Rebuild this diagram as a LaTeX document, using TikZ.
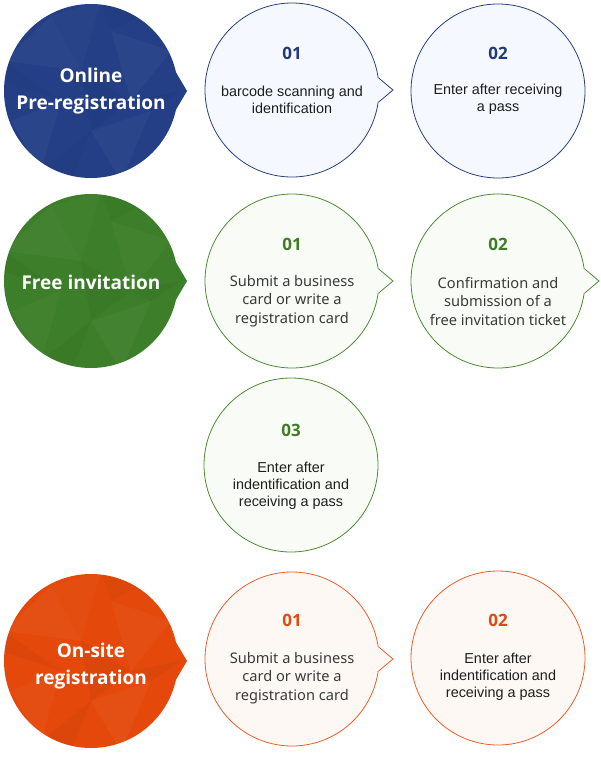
\documentclass[tikz,border=0pt]{standalone}
\usepackage{fontspec}
\setmainfont{Noto Sans}
\newfontfamily\arialf{Liberation Sans}
\newfontfamily\headf{Open Sans}
\usetikzlibrary{calc}
\definecolor{bluebig}{HTML}{243F86}
\definecolor{greenbig}{HTML}{3C7E29}
\definecolor{orangebig}{HTML}{E4490B}
\definecolor{blueline}{HTML}{2B4083}
\definecolor{greenline}{HTML}{4C8B33}
\definecolor{orangeline}{HTML}{E8602A}
\definecolor{bluefill}{HTML}{F5F8FF}
\definecolor{greenfill}{HTML}{F9FCF6}
\definecolor{orangefill}{HTML}{FEF8F5}
\definecolor{bluenum}{HTML}{223B78}
\definecolor{greennum}{HTML}{3E7D23}
\definecolor{orangenum}{HTML}{E04A0F}
\definecolor{txtA}{HTML}{1E1E1E}
\definecolor{txtN}{HTML}{3A3A3A}
\tikzset{
  bigc/.style={circle, minimum size=174pt, inner sep=0pt, draw=none, fill=#1},
  smallc/.style 2 args={circle, minimum size=174pt, inner sep=0pt, draw=#1, line width=0.8pt, fill=#2},
  bigtxt/.style={text=white, font=\headf\fontsize{19}{27}\selectfont\bfseries, align=center, inner sep=0pt},
  numtxt/.style={text=#1, font=\headf\fontsize{17}{20}\selectfont\bfseries, inner sep=0pt},
  bodyA/.style={text=txtA, font=\arialf\fontsize{14.4}{17}\selectfont, align=center, inner sep=0pt},
  bodyN/.style={text=txtN, font=\fontsize{14.6}{18.5}\selectfont, align=center, inner sep=0pt},
}
% facet texture for big circles
\newcommand{\facets}[2]{%
  \begin{scope}
    \clip (#1,#2) circle[radius=87pt];
    \begin{scope}[shift={(#1,#2)}]
      \fill[white,opacity=.035] (-87,-30) -- (-40,-75) -- (-10,-20) -- cycle;
      \fill[white,opacity=.025] (-40,-75) -- (10,-90) -- (-10,-20) -- cycle;
      \fill[white,opacity=.03] (20,-60) -- (80,-40) -- (40,10) -- cycle;
      \fill[white,opacity=.03] (-80,30) -- (-30,10) -- (-50,80) -- cycle;
      \fill[white,opacity=.035] (0,40) -- (60,20) -- (30,90) -- cycle;
      \fill[black,opacity=.035] (-10,-20) -- (40,10) -- (0,40) -- cycle;
      \fill[black,opacity=.03] (-90,-10) -- (-30,10) -- (-87,-30) -- cycle;
      \fill[black,opacity=.04] (40,10) -- (90,0) -- (60,20) -- cycle;
      \fill[black,opacity=.03] (-50,80) -- (0,40) -- (-20,90) -- cycle;
      \fill[black,opacity=.025] (10,-90) -- (60,-80) -- (20,-60) -- cycle;
    \end{scope}
  \end{scope}}
% pointer of a big circle
\newcommand{\bigptr}[2]{%
  \fill[#2] (#1.12) -- ($(#1.center)+(96,0)$) -- (#1.-12) -- (#1.center) -- cycle;}
% pointer of a small circle
\newcommand{\smallptr}[3]{%
  \fill[#3] (#1.8) -- ($(#1.center)+(101,0)$) -- (#1.-8)
     -- ($(#1.center)!0.93!(#1.-8)$) -- ($(#1.center)!0.93!(#1.8)$) -- cycle;
  \draw[#2, line width=0.8pt, line join=miter] (#1.8) -- ($(#1.center)+(101,0)$) -- (#1.-8);}
\begin{document}
\begin{tikzpicture}[x=1pt,y=-1pt]
\useasboundingbox (0,0) rectangle (600,760);
\fill[white] (0,0) rectangle (600,760);

% ---------- Row 1: Online pre-registration ----------
\node[bigc=bluebig] (b1) at (91,91) {};
\bigptr{b1}{bluebig}
\facets{91}{91}
\node[bigtxt] (b1t) at ($(b1.center)+(0,0)$) {Online\\Pre-registration};

\node[smallc={blueline}{bluefill}] (s11) at (292,90) {};
\smallptr{s11}{blueline}{bluefill}
\node[numtxt=bluenum] (s11n) at ($(s11.center)+(0,-37)$) {01};
\node[bodyA] (s11d) at ($(s11.center)+(0,9.5)$) {barcode scanning and\\identification};

\node[smallc={blueline}{bluefill}] (s12) at (498,91) {};
\node[numtxt=bluenum] (s12n) at ($(s12.center)+(0,-38)$) {02};
\node[bodyA] (s12d) at ($(s12.center)+(0,8.5)$) {Enter after receiving\\a pass};

% ---------- Row 2: Free invitation ----------
\node[bigc=greenbig] (b2) at (91,281) {};
\bigptr{b2}{greenbig}
\facets{91}{281}
\node[bigtxt] (b2t) at ($(b2.center)+(0,1)$) {Free invitation};

\node[smallc={greenline}{greenfill}] (s21) at (292,281) {};
\smallptr{s21}{greenline}{greenfill}
\node[numtxt=greennum] (s21n) at ($(s21.center)+(0,-37)$) {01};
\node[bodyN] (s21d) at ($(s21.center)+(0,20)$) {Submit a business\\card or write a\\registration card};

\node[smallc={greenline}{greenfill}] (s22) at (498,281) {};
\smallptr{s22}{greenline}{greenfill}
\node[numtxt=greennum] (s22n) at ($(s22.center)+(0,-37)$) {02};
\node[bodyN] (s22d) at ($(s22.center)+(0,20)$) {Confirmation and\\submission of a\\free invitation ticket};

% ---------- Row 3 ----------
\node[smallc={greenline}{greenfill}] (s23) at (291,465) {};
\node[numtxt=greennum] (s23n) at ($(s23.center)+(0,-35)$) {03};
\node[bodyA] (s23d) at ($(s23.center)+(0,21)$) {Enter after\\indentification and\\receiving a pass};

% ---------- Row 4: On-site registration ----------
\node[bigc=orangebig] (b4) at (91,661) {};
\bigptr{b4}{orangebig}
\facets{91}{661}
\node[bigtxt] (b4t) at ($(b4.center)+(0,5)$) {On-site\\registration};

\node[smallc={orangeline}{orangefill}] (s41) at (292,659) {};
\smallptr{s41}{orangeline}{orangefill}
\node[numtxt=orangenum] (s41n) at ($(s41.center)+(0,-39)$) {01};
\node[bodyN] (s41d) at ($(s41.center)+(0,19)$) {Submit a business\\card or write a\\registration card};

\node[smallc={orangeline}{orangefill}] (s42) at (498,658) {};
\node[numtxt=orangenum] (s42n) at ($(s42.center)+(0,-38)$) {02};
\node[bodyA] (s42d) at ($(s42.center)+(0,19)$) {Enter after\\indentification and\\receiving a pass};
\end{tikzpicture}
\end{document}
